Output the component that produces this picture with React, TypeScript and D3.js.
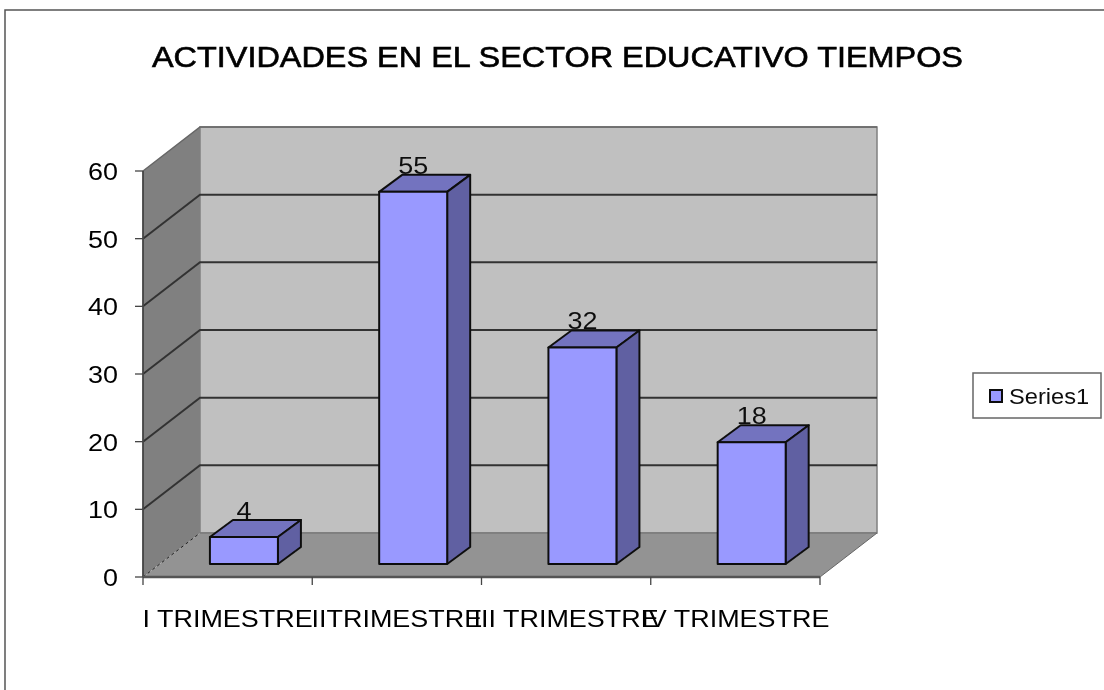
import React from "react";
import * as d3 from "d3";

const categories = ["I TRIMESTRE", "IITRIMESTRE", "III TRIMESTRE", "IV TRIMESTRE"];
const values = [4, 55, 32, 18];
const yTicks = [0, 10, 20, 30, 40, 50, 60];
const titleText = "ACTIVIDADES EN EL SECTOR EDUCATIVO TIEMPOS";
const seriesName = "Series1";

const W = 1104, H = 690;
const FONT = "'Liberation Sans', Arial, sans-serif";
const STRETCH = 1.1;
const LABEL_SIZE = 24.5;
const y = d3.scaleLinear().domain([0, 60]).range([577, 171]);
const x = d3.scaleBand<string>().domain(categories).range([143, 820]).paddingInner(0).paddingOuter(0);
const DX = 57, DY = -44;
const BDX = 23, BDY = -17;
const BAR_W = 68;
const line = d3.line<[number, number]>();
const poly = (p: [number, number][]) => line(p) + "Z";

export default function App() {
  const x0 = x.range()[0], x1 = x.range()[1];
  const y0 = y(0), yTop = y(60);
  const st = (px: number, py: number) => `translate(${px},${py}) scale(${STRETCH},1)`;
  return (
    <svg width={W} height={H} style={{ position: "absolute", left: 0, top: 0, background: "#fff" }}>
      <defs>
        <filter id="soft" x="-2%" y="-2%" width="104%" height="104%">
          <feGaussianBlur stdDeviation="0.45" />
        </filter>
      </defs>
      <g filter="url(#soft)">
        <rect x={5} y={10} width={W + 20} height={H + 20} fill="#fff" stroke="#555" strokeWidth={1.5} />
        <text x={557.5} y={67} textAnchor="middle" fontFamily={FONT} fontSize={29} fill="#000" stroke="#000" strokeWidth={0.6} textLength={811} lengthAdjust="spacingAndGlyphs">{titleText}</text>

        {/* back wall */}
        <path d={poly([[x0 + DX, yTop + DY], [x1 + DX, yTop + DY], [x1 + DX, y0 + DY], [x0 + DX, y0 + DY]])} fill="#c0c0c0" stroke="#808080" strokeWidth={1.5} />
        {/* side wall */}
        <path d={poly([[x0, yTop], [x0 + DX, yTop + DY], [x0 + DX, y0 + DY], [x0, y0]])} fill="#808080" />
        {/* floor */}
        <path d={poly([[x0, y0], [x1, y0], [x1 + DX, y0 + DY], [x0 + DX, y0 + DY]])} fill="#939393" />
        <path d={`M${x0},${y0}L${x0 + DX},${y0 + DY}`} stroke="#222" strokeWidth={1} strokeDasharray="3 3" fill="none" />
        <path d={`M${x0 + DX},${y0 + DY}H${x1 + DX}`} stroke="#7a7a7a" strokeWidth={1.5} fill="none" />
        <path d={`M${x1},${y0}L${x1 + DX},${y0 + DY}`} stroke="#666" strokeWidth={1} fill="none" />

        {/* gridlines */}
        {yTicks.filter((t) => t > 0 && t < 60).map((t) => (
          <path key={t} d={`M${x0},${y(t)}L${x0 + DX},${y(t) + DY}H${x1 + DX}`} fill="none" stroke="#333" strokeWidth={2} />
        ))}
        <path d={`M${x0},${yTop}L${x0 + DX},${yTop + DY}H${x1 + DX}`} fill="none" stroke="#666" strokeWidth={1.5} />

        {/* axes */}
        <path d={`M${x0},${yTop}V${y0}`} fill="none" stroke="#444" strokeWidth={1.8} />
        <path d={`M${x0},${y0}H${x1}`} fill="none" stroke="#555" strokeWidth={2.4} />
        {yTicks.map((t) => (
          <g key={t}>
            <line x1={x0 - 8} x2={x0} y1={y(t)} y2={y(t)} stroke="#444" strokeWidth={1.3} />
            <text transform={st(118, y(t) + 9)} textAnchor="end" fontFamily={FONT} fontSize={LABEL_SIZE} fill="#000">{t}</text>
          </g>
        ))}
        {[...categories.map((c) => x(c) as number), x1].map((px, i) => (
          <line key={i} x1={px} x2={px} y1={y0} y2={y0 + 8} stroke="#444" strokeWidth={1.3} />
        ))}
        {categories.map((c) => (
          <text key={c} transform={st((x(c) as number) + x.bandwidth() / 2, 627)} textAnchor="middle" fontFamily={FONT} fontSize={LABEL_SIZE} fill="#000">{c}</text>
        ))}

        {/* bars */}
        {categories.map((c, i) => {
          const v = values[i];
          const cx = (x(c) as number) + x.bandwidth() / 2 + 16.3;
          const l = cx - BAR_W / 2, r = cx + BAR_W / 2;
          const base = y(0) - 13;
          const top = base - (y(0) - y(v));
          return (
            <g key={c} stroke="#111" strokeWidth={2} strokeLinejoin="round">
              <path d={poly([[l, top], [r, top], [r + BDX, top + BDY], [l + BDX, top + BDY]])} fill="#7373bf" />
              <path d={poly([[r, top], [r + BDX, top + BDY], [r + BDX, base + BDY], [r, base]])} fill="#6060a2" />
              <rect x={l} y={top} width={BAR_W} height={base - top} fill="#9999ff" />
              <text transform={st(cx, top + BDY - 1)} textAnchor="middle" fontFamily={FONT} fontSize={LABEL_SIZE} fill="#111" stroke="none">{v}</text>
            </g>
          );
        })}

        {/* legend */}
        <rect x={973} y={373} width={128} height={45} fill="#fff" stroke="#666" strokeWidth={1.5} />
        <rect x={990} y={390} width={12} height={12} fill="#9999ff" stroke="#111" strokeWidth={2} />
        <text transform={`translate(1009,404) scale(1.1,1)`} fontFamily={FONT} fontSize={21.5} fill="#111">{seriesName}</text>
      </g>
    </svg>
  );
}
